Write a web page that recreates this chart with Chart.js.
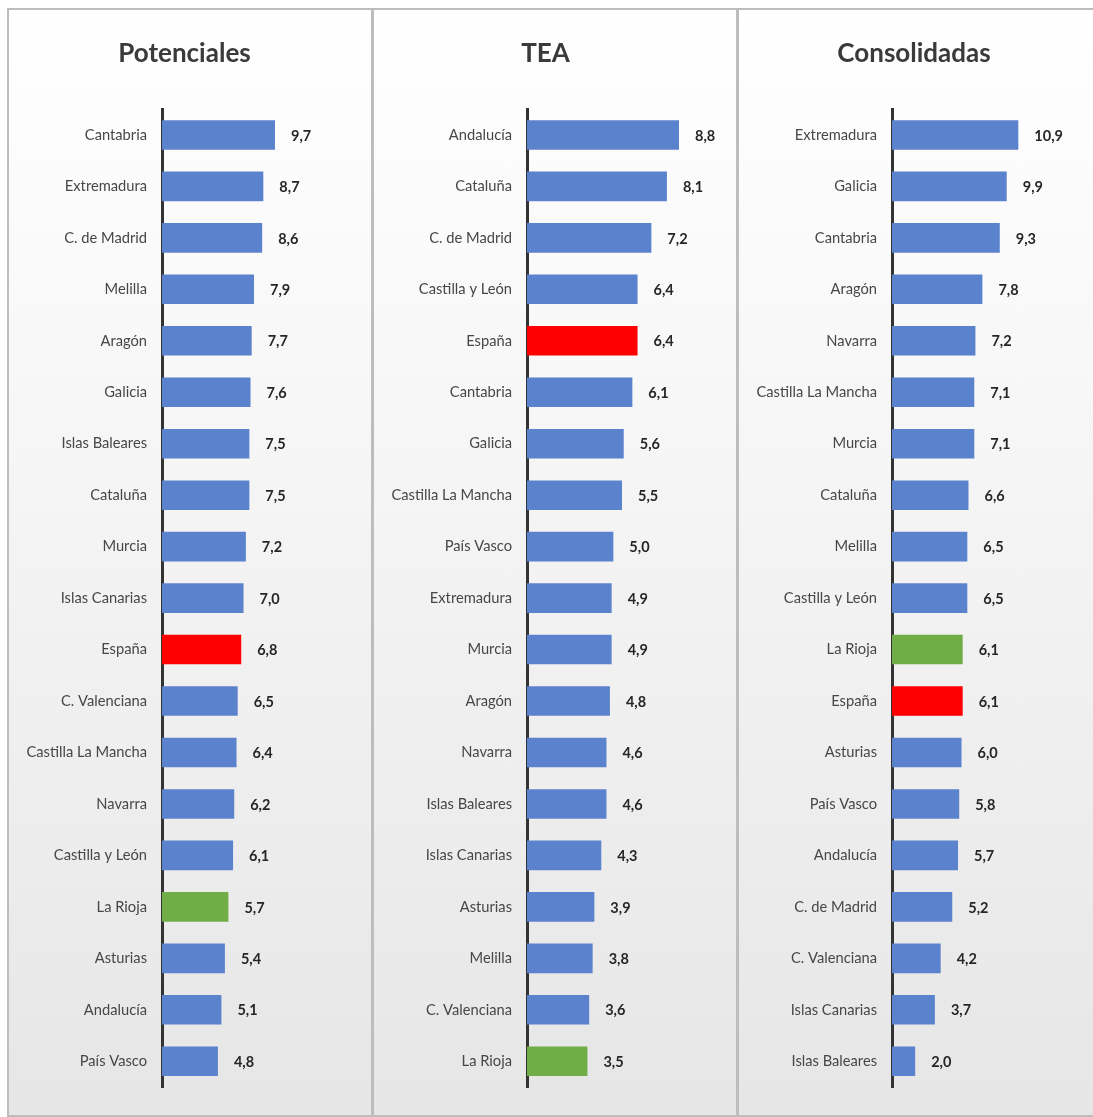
<!DOCTYPE html>
<html>
<head>
<meta charset="utf-8">
<script src="https://cdn.jsdelivr.net/npm/chart.js@4.4.0/dist/chart.umd.min.js"></script>
<style>
  html, body { margin: 0; padding: 0; background: #fff; }
  #wrap { position: relative; width: 1093px; height: 1117px; overflow: hidden; }
  .panel { position: absolute; top: 10px; height: 1105px;
    background: linear-gradient(to bottom, #ffffff 0%, #f7f7f7 35%, #e6e6e6 100%); }
  .panel canvas { position: absolute; left: 0; top: 0; }
  .line { position: absolute; background: #bdbdbd; }
</style>
</head>
<body>
<div id="wrap">
  <div class="panel" style="left:9px;width:362px"><canvas id="c1" width="362" height="1105"></canvas></div>
  <div class="panel" style="left:374px;width:362px"><canvas id="c2" width="362" height="1105"></canvas></div>
  <div class="panel" style="left:739px;width:354px"><canvas id="c3" width="354" height="1105"></canvas></div>
  <div class="line" style="left:7px;top:8px;width:1086px;height:2px"></div>
  <div class="line" style="left:7px;top:8px;width:2px;height:1109px"></div>
  <div class="line" style="left:371px;top:8px;width:3px;height:1109px"></div>
  <div class="line" style="left:736px;top:8px;width:3px;height:1109px"></div>
  <div class="line" style="left:7px;top:1115px;width:1086px;height:2px"></div>
</div>
<script>
// Potenciales
const potLabels = ['Cantabria', 'Extremadura', 'C. de Madrid', 'Melilla', 'Aragón', 'Galicia', 'Islas Baleares', 'Cataluña', 'Murcia', 'Islas Canarias', 'España', 'C. Valenciana', 'Castilla La Mancha', 'Navarra', 'Castilla y León', 'La Rioja', 'Asturias', 'Andalucía', 'País Vasco'];
const potValues = [9.7, 8.7, 8.6, 7.9, 7.7, 7.6, 7.5, 7.5, 7.2, 7.0, 6.8, 6.5, 6.4, 6.2, 6.1, 5.7, 5.4, 5.1, 4.8];

// TEA
const teaLabels = ['Andalucía', 'Cataluña', 'C. de Madrid', 'Castilla y León', 'España', 'Cantabria', 'Galicia', 'Castilla La Mancha', 'País Vasco', 'Extremadura', 'Murcia', 'Aragón', 'Navarra', 'Islas Baleares', 'Islas Canarias', 'Asturias', 'Melilla', 'C. Valenciana', 'La Rioja'];
const teaValues = [8.8, 8.1, 7.2, 6.4, 6.4, 6.1, 5.6, 5.5, 5.0, 4.9, 4.9, 4.8, 4.6, 4.6, 4.3, 3.9, 3.8, 3.6, 3.5];

// Consolidadas
const conLabels = ['Extremadura', 'Galicia', 'Cantabria', 'Aragón', 'Navarra', 'Castilla La Mancha', 'Murcia', 'Cataluña', 'Melilla', 'Castilla y León', 'La Rioja', 'España', 'Asturias', 'País Vasco', 'Andalucía', 'C. de Madrid', 'C. Valenciana', 'Islas Canarias', 'Islas Baleares'];
const conValues = [10.9, 9.9, 9.3, 7.8, 7.2, 7.1, 7.1, 6.6, 6.5, 6.5, 6.1, 6.1, 6.0, 5.8, 5.7, 5.2, 4.2, 3.7, 2.0];

const FONT = 'Lato, "Open Sans", sans-serif';

function barColor(label) {
  if (label === 'España') return '#ff0000';
  if (label === 'La Rioja') return '#70ad47';
  return '#5b82cc';
}

// value labels at the end of each bar
const valueLabels = {
  id: 'valueLabels',
  afterDatasetsDraw(chart) {
    const ctx = chart.ctx;
    const ds = chart.data.datasets[0];
    ctx.save();
    ctx.font = 'bold 14.5px ' + FONT;
    ctx.fillStyle = '#262626';
    ctx.textAlign = 'left';
    ctx.textBaseline = 'middle';
    chart.getDatasetMeta(0).data.forEach((bar, i) => {
      ctx.fillText(ds.data[i].toFixed(1).replace('.', ','), bar.x + 16, bar.y + 1);
    });
    ctx.restore();
  }
};

function makeChart(id, title, labels, values, xMax, padRight) {
  return new Chart(document.getElementById(id), {
    type: 'bar',
    data: {
      labels: labels,
      datasets: [{
        data: values,
        backgroundColor: labels.map(barColor),
        barPercentage: 0.575,
        categoryPercentage: 1
      }]
    },
    options: {
      indexAxis: 'y',
      responsive: false,
      animation: false,
      layout: { padding: { top: 0, right: padRight, bottom: 28, left: 0 } },
      plugins: {
        legend: { display: false },
        tooltip: { enabled: false },
        title: {
          display: true,
          text: title,
          color: '#3a3a3a',
          font: { size: 26, weight: 'bold', family: FONT },
          padding: { top: 28, bottom: 40 }
        }
      },
      scales: {
        x: { display: false, min: 0, max: xMax },
        y: {
          grid: { display: false, drawTicks: false },
          border: { display: true, color: '#333333', width: 3 },
          ticks: { color: '#474747', padding: 15, font: { size: 14.7, family: FONT } },
          afterFit: s => { s.width = 153; }
        }
      }
    },
    plugins: [valueLabels]
  });
}

makeChart('c1', 'Potenciales', potLabels, potValues, 17, 11);
makeChart('c2', 'TEA', teaLabels, teaValues, 11, 19);
makeChart('c3', 'Consolidadas', conLabels, conValues, 17, 4);
</script>
</body>
</html>
